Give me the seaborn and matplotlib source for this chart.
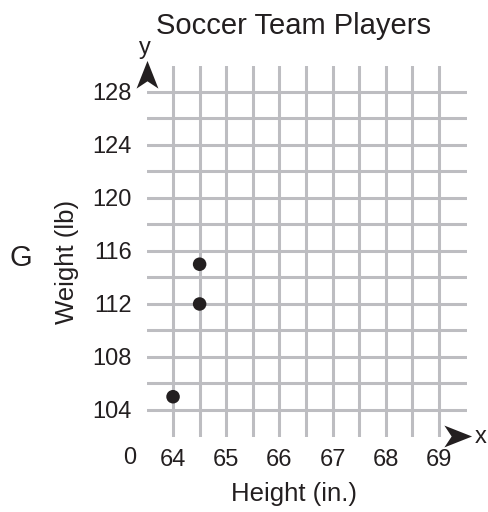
import matplotlib
matplotlib.use("Agg")
import matplotlib.pyplot as plt
from matplotlib.path import Path
import seaborn as sns
import pandas as pd

# data
heights = [64, 64.5, 64.5]
weights = [105, 112, 115]
x_ticks = [64, 65, 66, 67, 68, 69]
y_ticks = [104, 108, 112, 116, 120, 124, 128]

df = pd.DataFrame({"height": heights, "weight": weights})

sns.set_style("white")
plt.rcParams["font.family"] = ["Liberation Sans", "DejaVu Sans"]

grid_col = "#bdbdc1"
ink = "#231f20"

fig = plt.figure(figsize=(4.88, 5.12), dpi=100)
ax = fig.add_axes([147 / 488, 1 - 437 / 512, 320 / 488, 371 / 512])

ax.set_xlim(63.51, 69.53)
ax.set_ylim(101.96, 129.96)
ax.set_xticks(x_ticks)
ax.set_xticks([t + 0.5 for t in x_ticks[:-1]], minor=True)
ax.set_yticks(y_ticks)
ax.set_yticks([t + 2 for t in y_ticks[:-1]], minor=True)
ax.grid(True, which="both", color=grid_col, linewidth=2.2)
ax.set_axisbelow(True)
for s in ax.spines.values():
    s.set_visible(False)
ax.tick_params(which="both", length=0, labelsize=17, colors=ink)
ax.tick_params(axis="y", pad=11)
ax.tick_params(axis="x", pad=9)

sns.scatterplot(data=df, x="height", y="weight", ax=ax, color=ink,
                s=95, edgecolor="none", zorder=3, clip_on=False)
ax.set_xlabel("")
ax.set_ylabel("")

# stealth style arrowheads at the axis ends
up = Path([(0, 1), (0.75, -0.9), (0, -0.4), (-0.75, -0.9), (0, 1)],
          [Path.MOVETO, Path.LINETO, Path.LINETO, Path.LINETO, Path.CLOSEPOLY])
right = Path([(1, 0), (-0.9, 0.75), (-0.4, 0), (-0.9, -0.75), (1, 0)],
             [Path.MOVETO, Path.LINETO, Path.LINETO, Path.LINETO, Path.CLOSEPOLY])
fig.add_artist(plt.Line2D([147 / 488], [1 - 75 / 512], marker=up, markersize=21,
                          color=ink, markeredgewidth=0, transform=fig.transFigure))
fig.add_artist(plt.Line2D([457 / 488], [1 - 436 / 512], marker=right, markersize=21,
                          color=ink, markeredgewidth=0, transform=fig.transFigure))

fig.text(145 / 488, 1 - 48 / 512, "y", fontsize=17, color=ink, ha="center", va="center")
fig.text(481 / 488, 1 - 437 / 512, "x", fontsize=17, color=ink, ha="center", va="center")
fig.text(130 / 488, 1 - 458 / 512, "0", fontsize=17, color=ink, ha="center", va="center")

fig.text(294 / 488, 1 - 26 / 512, "Soccer Team Players", fontsize=21, color=ink,
         ha="center", va="center")
fig.text(294 / 488, 1 - 494 / 512, "Height (in.)", fontsize=18.5, color=ink,
         ha="center", va="center")
fig.text(67 / 488, 1 - 262 / 512, "Weight (lb)", fontsize=18.5, color=ink,
         ha="center", va="center", rotation=90)
fig.text(21 / 488, 1 - 258 / 512, "G", fontsize=21, color=ink,
         ha="center", va="center")

plt.savefig("out.png", dpi=100)
plt.close()
